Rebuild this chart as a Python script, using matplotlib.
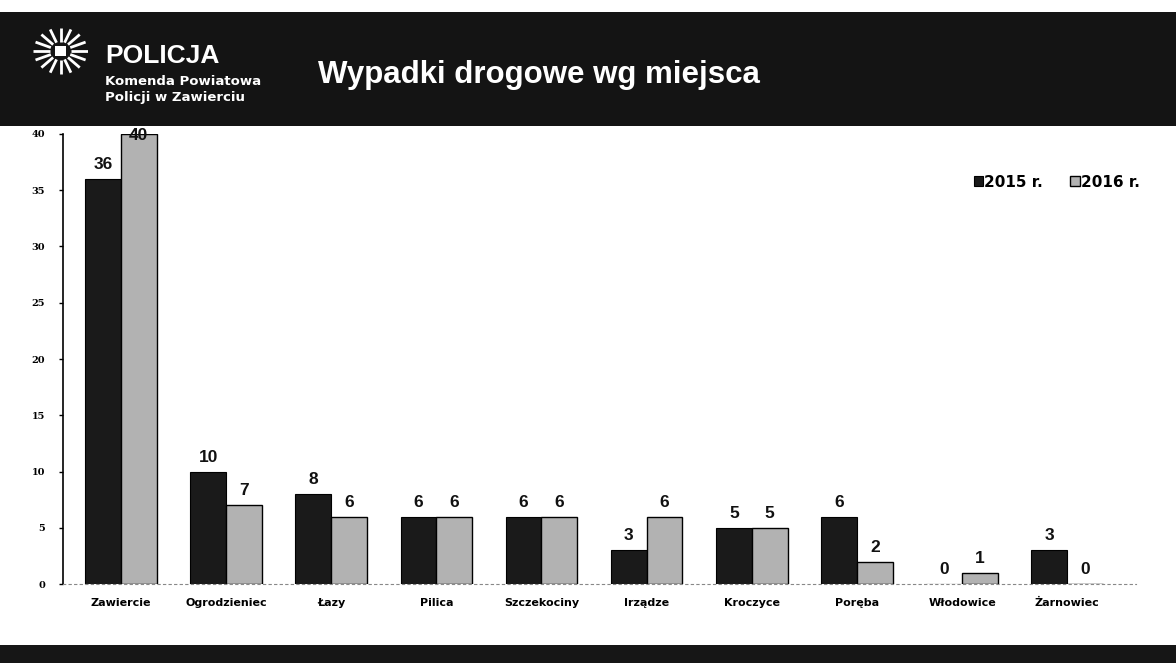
import matplotlib
matplotlib.use("Agg")
import matplotlib.pyplot as plt
from matplotlib.patches import Rectangle
import numpy as np

categories = ["Zawiercie", "Ogrodzieniec", "Łazy", "Pilica", "Szczekociny",
              "Irządze", "Kroczyce", "Poręba", "Włodowice", "Żarnowiec"]
values_2015 = [36, 10, 8, 6, 6, 3, 5, 6, 0, 3]
values_2016 = [40, 7, 6, 6, 6, 6, 5, 2, 1, 0]
series_names = ["2015 r.", "2016 r."]
yticks = [0, 5, 10, 15, 20, 25, 30, 35, 40]

plt.rcParams['font.family'] = ['DejaVu Sans']
fig = plt.figure(figsize=(11.76, 6.63), dpi=100)
fig.patch.set_facecolor("white")

# header band
fig.patches.append(Rectangle((0, 1 - 126 / 663), 1, (126 - 12) / 663, transform=fig.transFigure,
                             facecolor="#141414", edgecolor="none", zorder=-2))
# footer band
fig.patches.append(Rectangle((0, 0), 1, 0.027, transform=fig.transFigure,
                             facecolor="#161616", edgecolor="none", zorder=-2))

# logo (simple radial emblem)
lax = fig.add_axes([0.028, 0.887, 0.047, 0.072])
lax.set_zorder(5)
lax.set_xlim(-1, 1); lax.set_ylim(-1, 1); lax.axis("off")
for ang in np.linspace(0, 2 * np.pi, 16, endpoint=False):
    r0, r1 = 0.38, 0.98
    lax.plot([r0 * np.cos(ang), r1 * np.cos(ang)], [r0 * np.sin(ang), r1 * np.sin(ang)],
             color="white", lw=2.0, solid_capstyle="butt")
lax.add_patch(Rectangle((-0.2, -0.2), 0.4, 0.4, facecolor="white", edgecolor="none"))

fig.text(105 / 1176, 1 - 63 / 663, "POLICJA", color="white", fontsize=19, fontweight="bold",
         family="Liberation Sans", va="baseline", zorder=6)
fig.text(105 / 1176, 1 - 85 / 663, "Komenda Powiatowa", color="white", fontsize=9.5,
         fontweight="bold", va="baseline", zorder=6)
fig.text(105 / 1176, 1 - 101 / 663, "Policji w Zawierciu", color="white", fontsize=9.5,
         fontweight="bold", va="baseline", zorder=6)
fig.text(318 / 1176, 1 - 83 / 663, "Wypadki drogowe wg miejsca", color="white", fontsize=22.5,
         fontweight="bold", family="Liberation Sans", va="baseline", zorder=6)

ax = fig.add_axes([0.0536, 0.119, 0.912, 0.679])
ax.set_zorder(2)
x = np.arange(len(categories))
w = 0.34
b1 = ax.bar(x - w / 2, values_2015, w, color="#1a1a1a", edgecolor="black", linewidth=0.8,
            label=series_names[0], zorder=2)
b2 = ax.bar(x + w / 2, values_2016, w, color="#b2b2b2", edgecolor="black", linewidth=1.0,
            label=series_names[1], zorder=2)

ymax = 40
for bars, vals in ((b1, values_2015), (b2, values_2016)):
    for rect, v in zip(bars, vals):
        if v >= ymax - 1:
            off, va = (0, -1), "center"
        else:
            off, va = (0, 5), "bottom"
        ax.annotate(str(v), (rect.get_x() + rect.get_width() / 2, v),
                    xytext=off, textcoords="offset points", ha="center", va=va,
                    fontsize=12.5, fontweight="bold", family="Liberation Sans", color="#111111",
                    annotation_clip=False, zorder=4)

ax.set_xlim(-0.55, 9.65)
ax.set_ylim(0, ymax)
ax.set_yticks(yticks)
ax.set_yticklabels([str(t) for t in yticks], fontsize=7, fontweight="bold", family="DejaVu Serif")
ax.set_xticks(x)
ax.set_xticklabels(categories, fontsize=8, fontweight="bold")
ax.tick_params(axis="x", length=0, pad=10)
ax.tick_params(axis="y", length=3, width=1, pad=10)
for s in ("top", "right"):
    ax.spines[s].set_visible(False)
ax.spines["left"].set_linewidth(1.2)
ax.spines["bottom"].set_color("#888888")
ax.spines["bottom"].set_linewidth(0.8)
ax.spines["bottom"].set_linestyle((0, (2, 3)))

leg = ax.legend(loc="upper right", bbox_to_anchor=(1.017, 0.94), ncol=2, frameon=False,
                fontsize=11, handlelength=0.6, handleheight=0.6, handletextpad=0.1,
                columnspacing=1.8)
for t in leg.get_texts():
    t.set_fontweight("bold")

fig.savefig("out.png", dpi=100)
